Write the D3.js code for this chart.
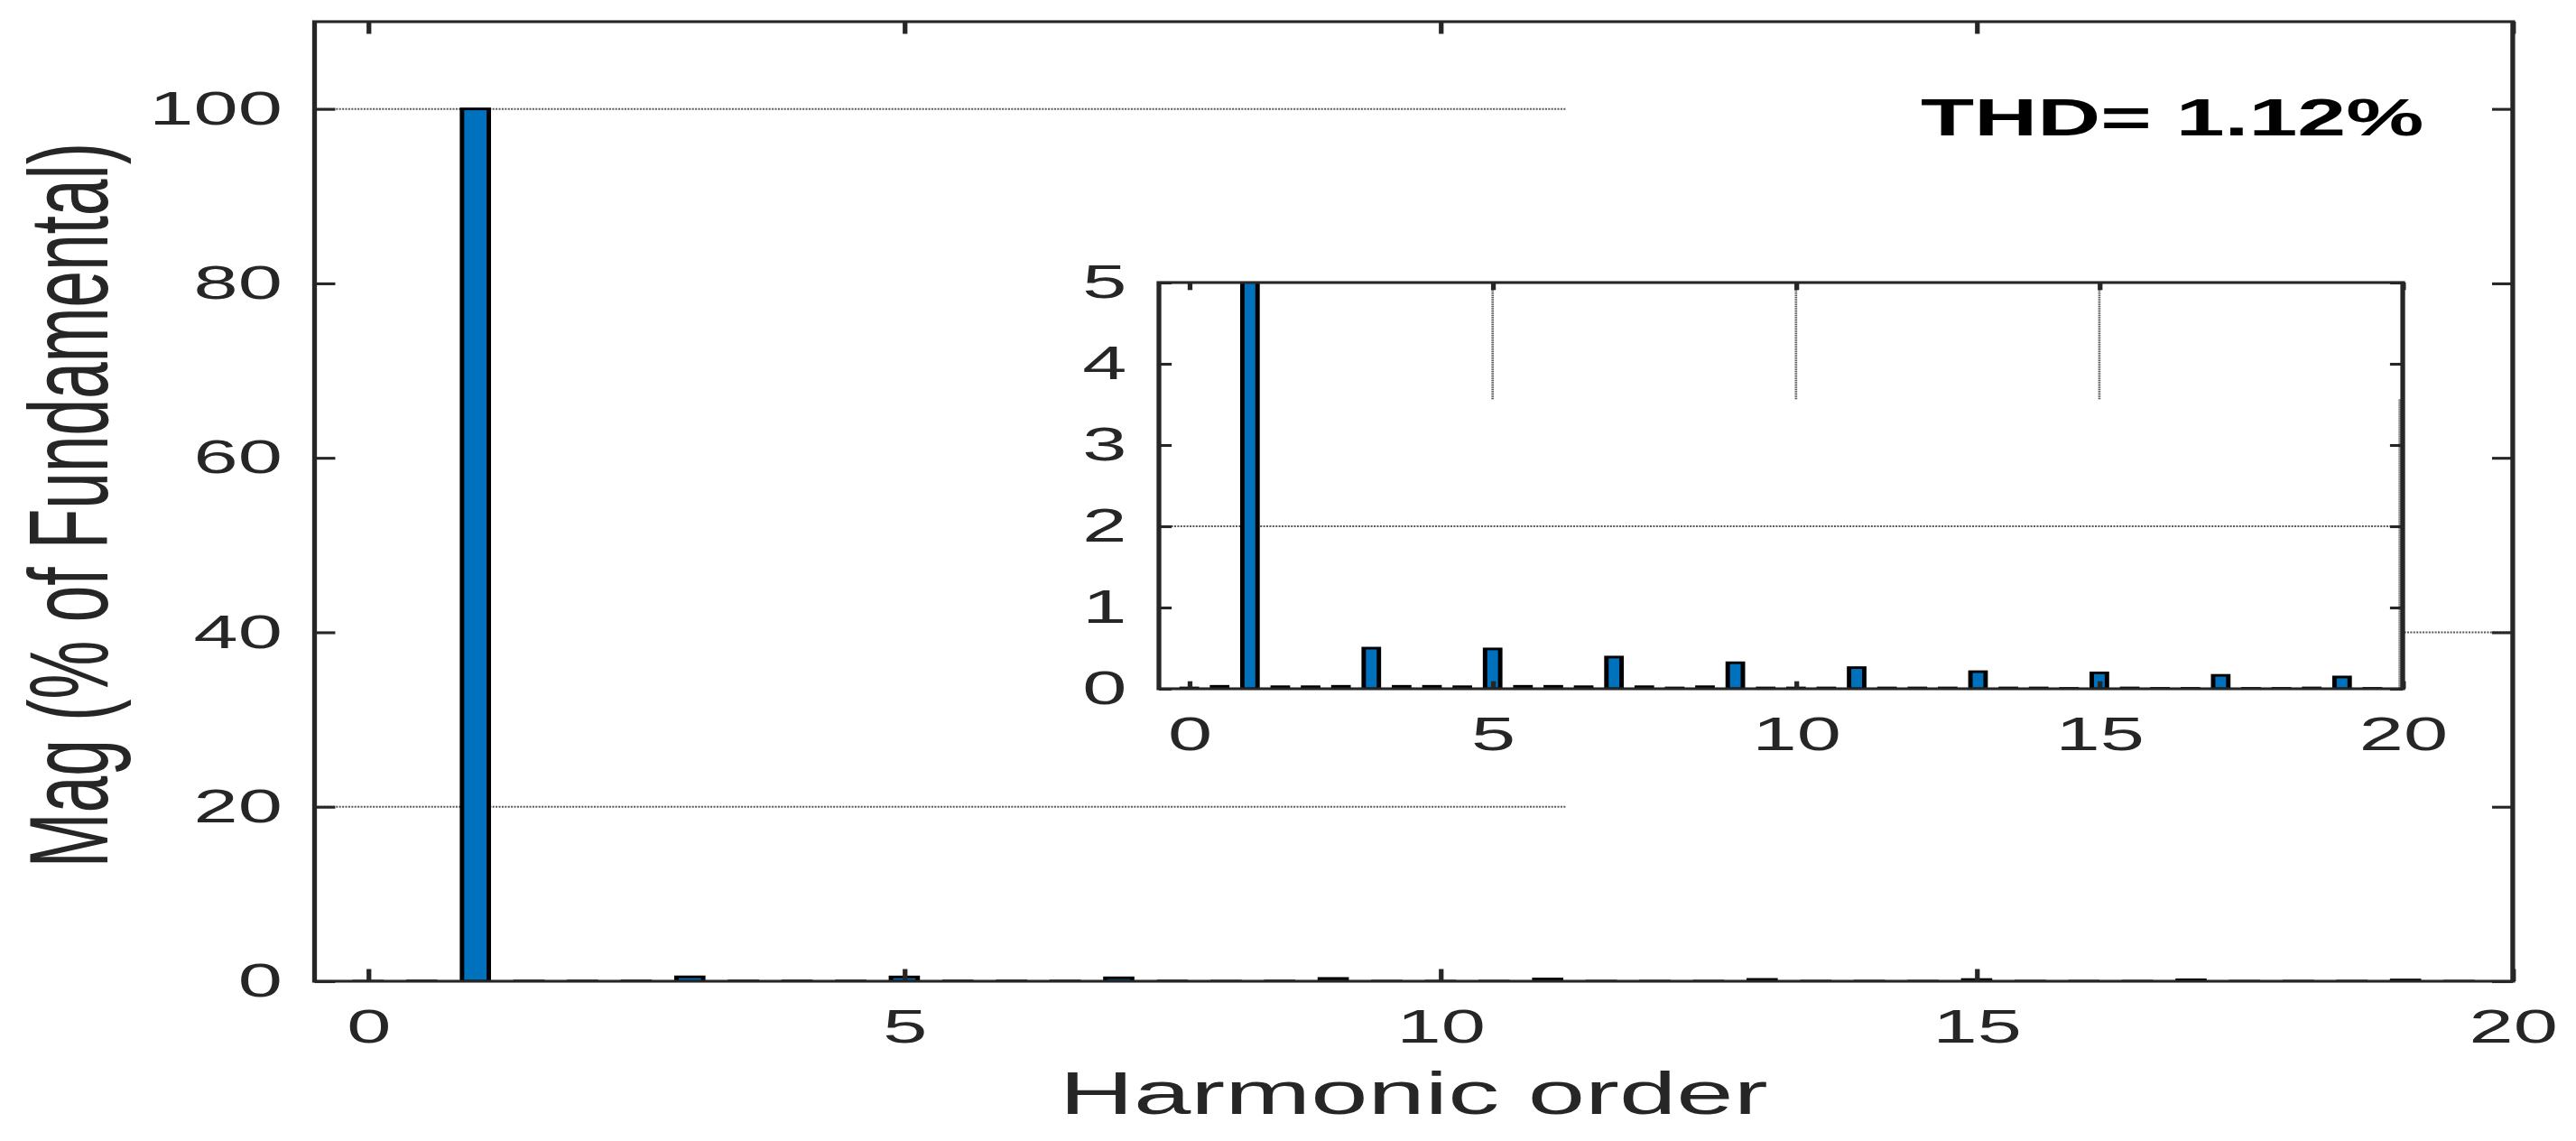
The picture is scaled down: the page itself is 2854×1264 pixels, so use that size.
<!DOCTYPE html>
<html>
<head>
<meta charset="utf-8">
<script src="https://cdn.jsdelivr.net/npm/d3@7"></script>
<style>
  html, body { margin: 0; padding: 0; background: #fff; }
  svg { display: block; }
  text { font-family: "Liberation Sans", Arial, Helvetica, sans-serif; }
</style>
</head>
<body>
<svg id="chart"></svg>
<script>
// ---------------- data ----------------
const harmonics = [0, 0.5, 1, 1.5, 2, 2.5, 3, 3.5, 4, 4.5,
                   5, 5.5, 6, 6.5, 7, 7.5, 8, 8.5, 9, 9.5,
                   10, 10.5, 11, 11.5, 12, 12.5, 13, 13.5, 14, 14.5,
                   15, 15.5, 16, 16.5, 17, 17.5, 18, 18.5, 19, 19.5];
const magnitudes = [0.01, 0.03, 100, 0.025, 0.025, 0.03, 0.50, 0.03, 0.03, 0.025,
                    0.49, 0.03, 0.03, 0.025, 0.39, 0.025, 0.01, 0.025, 0.32, 0.01,
                    0.01, 0.01, 0.26, 0.01, 0.01, 0.01, 0.21, 0.01, 0.01, 0.005,
                    0.195, 0.01, 0.005, 0.005, 0.165, 0.005, 0.005, 0.01, 0.145, 0.005];
const xTicks = [0, 5, 10, 15, 20];
const yTicksMain = [0, 20, 40, 60, 80, 100];
const yTicksInset = [0, 1, 2, 3, 4, 5];
const xDomain = [-0.5, 20];
const yDomainMain = [0, 110];
const yDomainInset = [0, 5];
const barWidth = 0.25;
const xLabel = "Harmonic order";
const yLabel = "Mag (% of Fundamental)";
const thdText = "THD= 1.12%";

// ---------------- layout ----------------
const W = 2854, H = 1264, stretch = 1.7;
const VW = W / stretch;
const svg = d3.select("#chart")
  .attr("width", W).attr("height", H)
  .attr("viewBox", `0 0 ${VW} ${H}`)
  .attr("preserveAspectRatio", "none");

const AX = "#262626";
const LW = 3.1;
const FS = 52;

const main = { l: 205, r: 1637.6, t: 24, b: 1087, tick: 13.5 };
const inset = { l: 755.3, r: 1565.9, t: 313, b: 763, tick: 8.3 };

const xMain = d3.scaleLinear().domain(xDomain).range([main.l, main.r]);
const yMain = d3.scaleLinear().domain(yDomainMain).range([main.b, main.t]);
const xIn = d3.scaleLinear().domain(xDomain).range([inset.l, inset.r]);
const yIn = d3.scaleLinear().domain(yDomainInset).range([inset.b, inset.t]);

const data = harmonics.map((h, i) => ({ h, v: magnitudes[i] }));

const defs = svg.append("defs");
function clip(id, box) {
  defs.append("clipPath").attr("id", id).append("rect")
    .attr("x", box.l).attr("y", box.t)
    .attr("width", box.r - box.l).attr("height", box.b - box.t);
}
clip("clipMain", main);
clip("clipInset", inset);

const GRID = "#5a5a5a";
function gridH(g, x, y, val, x0, x1) {
  g.append("line")
    .attr("x1", x(x0)).attr("x2", x(x1))
    .attr("y1", y(val)).attr("y2", y(val))
    .attr("stroke", GRID).attr("stroke-width", 2)
    .attr("stroke-dasharray", "1.2,0.8");
}
function gridV(g, x, y, val, y0, y1) {
  g.append("line")
    .attr("x1", x(val)).attr("x2", x(val))
    .attr("y1", y(y0)).attr("y2", y(y1))
    .attr("stroke", GRID).attr("stroke-width", 1.6)
    .attr("stroke-dasharray", "1.2,0.8");
}

function drawBars(g, x, y, clipId) {
  g.append("g").attr("clip-path", `url(#${clipId})`)
    .selectAll("rect").data(data).join("rect")
    .attr("x", d => x(d.h - barWidth / 2))
    .attr("width", d => x(d.h + barWidth / 2) - x(d.h - barWidth / 2))
    .attr("y", d => y(d.v))
    .attr("height", d => Math.max(0, y(0) - y(d.v)))
    .attr("fill", "#0072BD")
    .attr("stroke", "#000")
    .attr("stroke-width", 2.9);
}

function drawAxes(g, x, y, box, yTicks) {
  const tk = box.tick;
  const styleAxis = sel => {
    sel.select(".domain").remove();
    sel.selectAll(".tick line").attr("stroke", AX).attr("stroke-width", LW);
    sel.selectAll(".tick text").attr("fill", AX).attr("font-size", FS)
      .style("font-family", '"Liberation Sans", Arial, Helvetica, sans-serif');
  };
  g.append("g").attr("transform", `translate(0,${box.b})`)
    .call(d3.axisBottom(x).tickValues(xTicks).tickSize(-tk).tickPadding(31).tickFormat(d3.format("d")))
    .call(styleAxis);
  g.append("g").attr("transform", `translate(0,${box.t})`)
    .call(d3.axisTop(x).tickValues(xTicks).tickSize(-tk).tickFormat(""))
    .call(styleAxis);
  g.append("g").attr("transform", `translate(${box.l},0)`)
    .call(d3.axisLeft(y).tickValues(yTicks).tickSize(-tk).tickPadding(21).tickFormat(d3.format("d")))
    .call(styleAxis);
  g.append("g").attr("transform", `translate(${box.r},0)`)
    .call(d3.axisRight(y).tickValues(yTicks).tickSize(-tk).tickFormat(""))
    .call(styleAxis);
  g.append("rect")
    .attr("x", box.l).attr("y", box.t)
    .attr("width", box.r - box.l).attr("height", box.b - box.t)
    .attr("fill", "none").attr("stroke", AX).attr("stroke-width", LW);
}

// ---------------- main axes ----------------
const gMain = svg.append("g");
gridH(gMain, xMain, yMain, 100, -0.5, 11.17);
gridH(gMain, xMain, yMain, 20, -0.5, 11.17);
gridH(gMain, xMain, yMain, 40, 18.1, 20);
drawBars(gMain, xMain, yMain, "clipMain");
drawAxes(gMain, xMain, yMain, main, yTicksMain);

gMain.append("text")
  .attr("x", (main.l + main.r) / 2).attr("y", 1234)
  .attr("text-anchor", "middle").attr("font-size", 67).attr("fill", AX)
  .text(xLabel);
gMain.append("text")
  .attr("transform", `translate(70,${(main.t + main.b) / 2 + 4}) rotate(-90)`)
  .attr("text-anchor", "middle").attr("font-size", 73).attr("fill", AX)
  .text(yLabel);

// ---------------- inset axes ----------------
const gIn = svg.append("g");
gIn.append("rect")
  .attr("x", inset.l).attr("y", inset.t)
  .attr("width", inset.r - inset.l).attr("height", inset.b - inset.t)
  .attr("fill", "#fff");
gridH(gIn, xIn, yIn, 2, -0.5, 20);
[5, 10, 15].forEach(v => gridV(gIn, xIn, yIn, v, 5, 3.56));
gridV(gIn, xIn, yIn, 19.95, 3.56, 0);
drawBars(gIn, xIn, yIn, "clipInset");
drawAxes(gIn, xIn, yIn, inset, yTicksInset);

// ---------------- annotation ----------------
svg.append("text")
  .attr("x", 1251.8).attr("y", 150)
  .attr("font-size", 57).attr("font-weight", "bold").attr("fill", "#000")
  .text(thdText);
</script>
</body>
</html>
